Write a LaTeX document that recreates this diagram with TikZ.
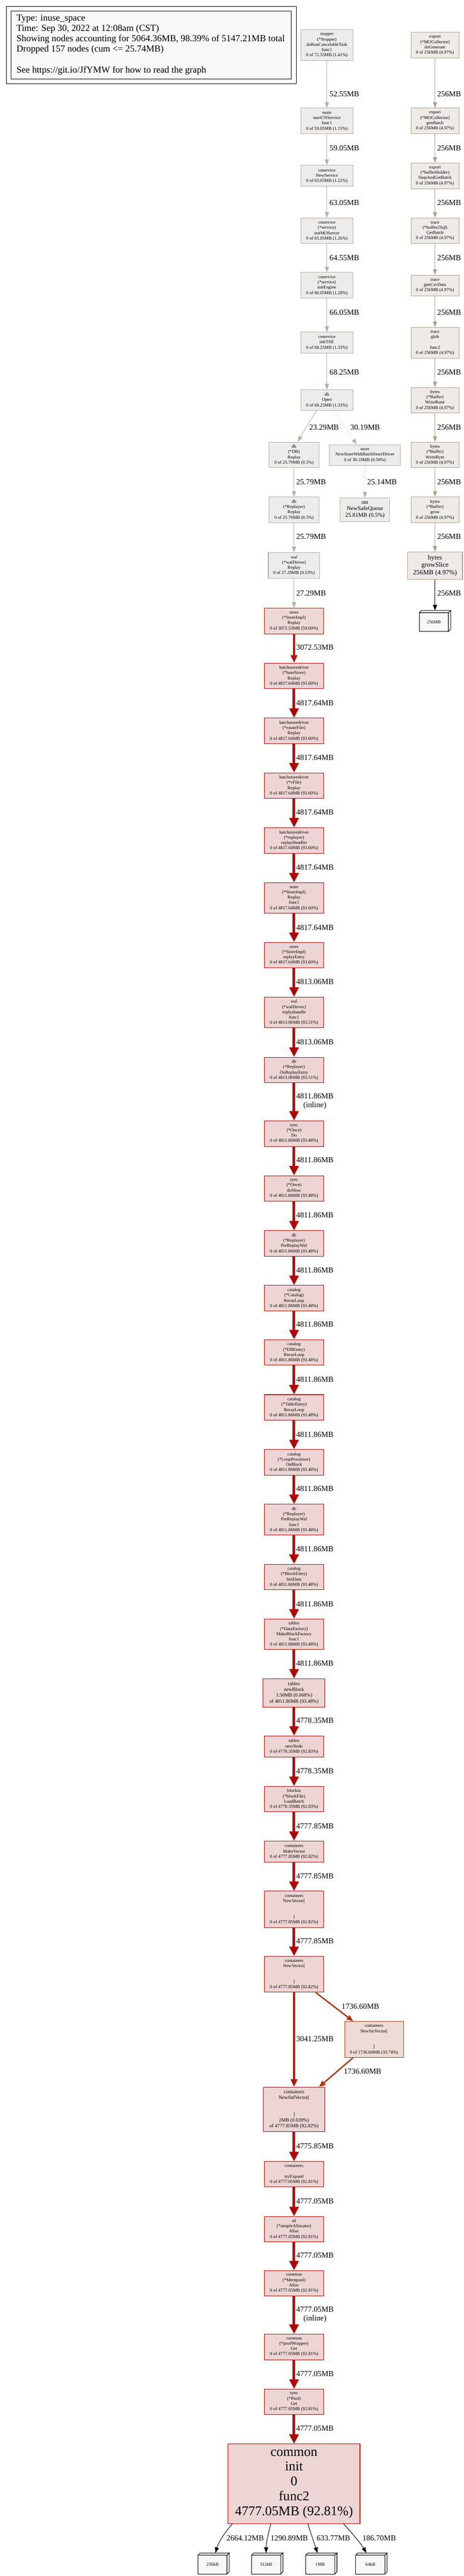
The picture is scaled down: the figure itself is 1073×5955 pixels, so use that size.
\documentclass[tikz,border=0pt]{standalone}
\usepackage{fontspec}
\setmainfont{Liberation Serif}
\usetikzlibrary{arrows.meta,calc}
\definecolor{gfill}{HTML}{EDECEB}
\definecolor{gbord}{HTML}{B2AFA6}
\definecolor{gedgec}{HTML}{B2B0A9}
\definecolor{tfill}{HTML}{EDEAE7}
\definecolor{tbord}{HTML}{B2A086}
\definecolor{rfill}{HTML}{EDD5D5}
\definecolor{rbord}{HTML}{B20300}
\definecolor{mfill}{HTML}{EDD8D5}
\definecolor{mbord}{HTML}{B21900}
\definecolor{ofill}{HTML}{EDDCD5}
\definecolor{obord}{HTML}{B23100}
\definecolor{leaffill}{HTML}{F8F8F8}
\newcommand\ndfont{\fontsize{10.5}{12.2}\selectfont}
\newcommand\edfont{\fontsize{18}{20.5}\selectfont}
\newcommand\lgfont{\fontsize{21.4}{24}\selectfont}
\tikzset{
  nd/.style={draw, rectangle, align=center, inner sep=0pt, line width=1.2pt, font=\ndfont},
  gnode/.style={nd, draw=gbord, fill=gfill},
  tnode/.style={nd, draw=tbord, fill=tfill},
  rnode/.style={nd, draw=rbord, fill=rfill, minimum width=136pt, minimum height=59pt},
  elab/.style={anchor=west, inner sep=0pt, font=\edfont, align=center},
  clab/.style={anchor=center, inner sep=0pt, font=\edfont},
  lgline/.style={anchor=west, inner sep=0pt, font=\lgfont},
  gedge/.style={draw=gedgec, line width=1.1pt, -{Triangle[length=13pt,width=9.5pt]}},
  gdot/.style={dash pattern=on 1.4pt off 5pt},
  tedge/.style={draw=tbord, line width=1.1pt, -{Triangle[length=13pt,width=9.5pt]}},
  kedge/.style={draw=black, line width=1.2pt, -{Triangle[length=13pt,width=9.5pt]}},
  redge/.style={draw=rbord, line width=6pt, -{Triangle[length=22pt,width=21pt]}},
  medge/.style={draw=mbord, line width=5pt, -{Triangle[length=18pt,width=15pt]}},
  oedge/.style={draw=obord, line width=3pt, -{Triangle[length=15pt,width=12pt]}},
  leafbb/.style={rectangle, inner sep=0pt, minimum width=72pt, minimum height=48pt},
  leafface/.style={fill=leaffill, draw=black, line width=1.2pt, line join=miter},
  leaftext/.style={inner sep=0pt, font=\ndfont}
}
\newcommand\leafbox[4]{%
  \node[leafbb] (#1) at (#2,#3) {};
  \filldraw[leafface] (#1.south west) rectangle ($(#1.north east)+(-5,5)$);
  \filldraw[leafface] ($(#1.north west)+(0,5)$) -- ($(#1.north west)+(5,0)$) -- (#1.north east) -- ($(#1.north east)+(-5,5)$) -- cycle;
  \filldraw[leafface] ($(#1.north east)+(-5,5)$) -- (#1.north east) -- ($(#1.south east)+(0,-5)$) -- ($(#1.south east)+(-5,0)$) -- cycle;
  \node[leaftext] (#1t) at ($(#1.center)+(-2.5,2.5)$) {#4};
}
\begin{document}
\begin{tikzpicture}[x=1pt,y=-1pt]
\fill[white] (0,0) rectangle (1073,5955);
\useasboundingbox (0,0) rectangle (1073,5955);

% ---------- legend ----------
\draw[black, line width=1.3pt, fill=white] (15,15) rectangle (685,193);
\node[draw=black, line width=1.3pt, fill=leaffill, rectangle, inner sep=0pt, minimum width=648pt, minimum height=157pt] (legend) at (350,104.5) {};
\node[lgline] (lg1) at (38,43) {Type: inuse\_space};
\node[lgline] (lg2) at (38,67) {Time: Sep 30, 2022 at 12:08am (CST)};
\node[lgline] (lg3) at (38,91) {Showing nodes accounting for 5064.36MB, 98.39\% of 5147.21MB total};
\node[lgline] (lg4) at (38,115) {Dropped 157 nodes (cum <= 25.74MB)};
\node[lgline] (lg5) at (38,163) {See https://git.io/JfYMW for how to read the graph};

% ---------- left grey column ----------
\node[gnode, minimum width=120pt, minimum height=71pt] (stopper) at (756,104.5) {stopper\\(*Stopper)\\doRunCancelableTask\\func1\\0 of 72.55MB (1.41\%)};
\node[gnode, minimum width=120pt, minimum height=59pt] (mainf) at (756,279.5) {main\\startCNService\\func1\\0 of 59.05MB (1.15\%)};
\node[gnode, minimum width=120pt, minimum height=49pt] (newservice) at (756,406.5) {cnservice\\NewService\\0 of 63.05MB (1.22\%)};
\node[gnode, minimum width=120pt, minimum height=59pt] (initmo) at (756,533.5) {cnservice\\(*service)\\initMOServer\\0 of 65.05MB (1.26\%)};
\node[gnode, minimum width=120pt, minimum height=59pt] (initengine) at (756,659.5) {cnservice\\(*service)\\initEngine\\0 of 66.05MB (1.28\%)};
\node[gnode, minimum width=120pt, minimum height=48pt] (inittae) at (756,792) {cnservice\\initTAE\\0 of 68.25MB (1.33\%)};
\node[gnode, minimum width=120pt, minimum height=48pt] (dbopen) at (756,925) {db\\Open\\0 of 68.25MB (1.33\%)};
\node[gnode, minimum width=116pt, minimum height=59pt] (dbreplay) at (680,1051.5) {db\\(*DB)\\Replay\\0 of 25.79MB (0.5\%)};
\node[gnode, minimum width=164pt, minimum height=48pt] (newstore) at (844,1052) {store\\NewStoreWithBatchStoreDriver\\0 of 30.19MB (0.59\%)};
\node[gnode, minimum width=116pt, minimum height=59pt] (replayer) at (680,1178.5) {db\\(*Replayer)\\Replay\\0 of 25.79MB (0.5\%)};
\node[gnode, minimum width=115pt, minimum height=55pt, font=\fontsize{13.4}{14.8}\selectfont] (safequeue) at (844,1178.5) {sm\\NewSafeQueue\\25.81MB (0.5\%)};
\node[gnode, minimum width=119pt, minimum height=59pt] (walreplay) at (680,1307) {wal\\(*walDriver)\\Replay\\0 of 27.29MB (0.53\%)};
\node[nd, draw=mbord, fill=mfill, minimum width=136pt, minimum height=59pt] (storereplay) at (680,1435.5) {store\\(*StoreImpl)\\Replay\\0 of 3072.53MB (59.69\%)};

% ---------- right tan column ----------
\node[tnode, minimum width=111pt, minimum height=59pt] (r1) at (1006,104.5) {export\\(*MOCollector)\\doGenerate\\0 of 256MB (4.97\%)};
\node[tnode, minimum width=111pt, minimum height=59pt] (r2) at (1006,279.5) {export\\(*MOCollector)\\genBatch\\0 of 256MB (4.97\%)};
\node[tnode, minimum width=111pt, minimum height=59pt] (r3) at (1006,406.5) {export\\(*bufferHolder)\\StopAndGetBatch\\0 of 256MB (4.97\%)};
\node[tnode, minimum width=111pt, minimum height=59pt] (r4) at (1006,533.5) {trace\\(*buffer2Sql)\\GetBatch\\0 of 256MB (4.97\%)};
\node[tnode, minimum width=111pt, minimum height=48pt] (r5) at (1006,660) {trace\\genCsvData\\0 of 256MB (4.97\%)};
\node[tnode, minimum width=111pt, minimum height=71pt] (r6) at (1006,792.5) {trace\\glob\\\mbox{}\\func2\\0 of 256MB (4.97\%)};
\node[tnode, minimum width=111pt, minimum height=58pt] (r7) at (1006,925) {bytes\\(*Buffer)\\WriteRune\\0 of 256MB (4.97\%)};
\node[tnode, minimum width=111pt, minimum height=59pt] (r8) at (1006,1051.5) {bytes\\(*Buffer)\\WriteByte\\0 of 256MB (4.97\%)};
\node[tnode, minimum width=111pt, minimum height=59pt] (r9) at (1006,1178.5) {bytes\\(*Buffer)\\grow\\0 of 256MB (4.97\%)};
\node[tnode, minimum width=127pt, minimum height=63pt, font=\fontsize{15.5}{17.3}\selectfont] (r10) at (1006,1307.5) {bytes\\growSlice\\256MB (4.97\%)};
\leafbox{leafr}{1006}{1435.5}{256MB}

% ---------- red chain ----------
\node[rnode] (basestore) at (680,1562.5) {batchstoredriver\\(*baseStore)\\Replay\\0 of 4817.64MB (93.60\%)};
\node[rnode] (rotatefile) at (680,1689.5) {batchstoredriver\\(*rotateFile)\\Replay\\0 of 4817.64MB (93.60\%)};
\node[rnode] (vfile) at (680,1816) {batchstoredriver\\(*vFile)\\Replay\\0 of 4817.64MB (93.60\%)};
\node[rnode] (replayhandler) at (680,1943) {batchstoredriver\\(*replayer)\\replayHandler\\0 of 4817.64MB (93.60\%)};
\node[rnode, minimum height=71pt] (replayfunc) at (680,2076) {store\\(*StoreImpl)\\Replay\\func1\\0 of 4817.64MB (93.60\%)};
\node[rnode] (replayentry) at (680,2208) {store\\(*StoreImpl)\\replayEntry\\0 of 4817.64MB (93.60\%)};
\node[rnode, minimum height=71pt] (walfunc) at (680,2340.5) {wal\\(*walDriver)\\replayhandle\\func1\\0 of 4813.06MB (93.51\%)};
\node[rnode] (onreplay) at (680,2473.5) {db\\(*Replayer)\\OnReplayEntry\\0 of 4813.06MB (93.51\%)};
\node[rnode] (oncedo) at (680,2620.5) {sync\\(*Once)\\Do\\0 of 4811.86MB (93.48\%)};
\node[rnode] (doslow) at (680,2747.5) {sync\\(*Once)\\doSlow\\0 of 4811.86MB (93.48\%)};
\node[rnode] (prereplay) at (680,2874.5) {db\\(*Replayer)\\PreReplayWal\\0 of 4811.86MB (93.48\%)};
\node[rnode] (catloop) at (680,3001) {catalog\\(*Catalog)\\RecurLoop\\0 of 4811.86MB (93.48\%)};
\node[rnode] (dbentry) at (680,3126.5) {catalog\\(*DBEntry)\\RecurLoop\\0 of 4811.86MB (93.48\%)};
\node[rnode] (tableentry) at (680,3253.5) {catalog\\(*TableEntry)\\RecurLoop\\0 of 4811.86MB (93.48\%)};
\node[rnode] (loopproc) at (680,3380.5) {catalog\\(*LoopProcessor)\\OnBlock\\0 of 4811.86MB (93.48\%)};
\node[rnode, minimum height=71pt] (prefunc) at (680,3513) {db\\(*Replayer)\\PreReplayWal\\func1\\0 of 4811.86MB (93.48\%)};
\node[rnode] (blockentry) at (680,3645.5) {catalog\\(*BlockEntry)\\InitData\\0 of 4811.86MB (93.48\%)};
\node[rnode, minimum height=71pt] (datafactory) at (680,3778) {tables\\(*DataFactory)\\MakeBlockFactory\\func1\\0 of 4811.86MB (93.48\%)};
\node[rnode, minimum width=143pt, minimum height=65pt, font=\fontsize{11.5}{13.3}\selectfont] (newblock) at (680,3913.5) {tables\\newBlock\\3.50MB (0.068\%)\\of 4811.86MB (93.48\%)};
\node[rnode, minimum height=49pt] (newnode) at (680,4037.5) {tables\\newNode\\0 of 4778.35MB (92.83\%)};
\node[rnode] (loadbatch) at (680,4159) {blockio\\(*blockFile)\\LoadBatch\\0 of 4778.35MB (92.83\%)};
\node[rnode, minimum height=49pt] (makevector) at (680,4280.5) {containers\\MakeVector\\0 of 4777.85MB (92.82\%)};
\node[rnode, minimum height=84pt] (newvectora) at (680,4414) {containers\\NewVector[\\\mbox{}\\\mbox{}\\]\\0 of 4777.85MB (92.82\%)};
\node[rnode, minimum height=83pt] (newvectorb) at (680,4564) {containers\\NewVector[\\\mbox{}\\\mbox{}\\]\\0 of 4777.85MB (92.82\%)};
\node[nd, draw=obord, fill=ofill, minimum width=136pt, minimum height=83pt] (newstr) at (865,4714.5) {containers\\NewStrVector[\\\mbox{}\\\mbox{}\\]\\0 of 1736.60MB (33.74\%)};
\node[rnode, minimum width=142pt, minimum height=103pt, font=\fontsize{11.5}{13.1}\selectfont] (newstd) at (680,4876.5) {containers\\NewStdVector[\\\mbox{}\\\mbox{}\\]\\2MB (0.039\%)\\of 4777.85MB (92.82\%)};
\node[rnode, minimum height=58pt] (tryexpand) at (680,5026) {containers\\\mbox{}\\tryExpand\\0 of 4777.05MB (92.81\%)};
\node[rnode, minimum height=58pt] (stlalloc) at (680,5153) {stl\\(*simpleAllocator)\\Alloc\\0 of 4777.05MB (92.81\%)};
\node[rnode] (mempool) at (680,5278.5) {common\\(*Mempool)\\Alloc\\0 of 4777.05MB (92.81\%)};
\node[rnode] (poolwrapper) at (680,5425.5) {common\\(*poolWrapper)\\Get\\0 of 4777.05MB (92.81\%)};
\node[rnode] (poolget) at (680,5552.5) {sync\\(*Pool)\\Get\\0 of 4777.05MB (92.81\%)};
\node[rnode, minimum width=305pt, minimum height=184pt, font=\fontsize{31}{34.2}\selectfont] (commoninit) at (680,5742) {common\\init\\0\\func2\\4777.05MB (92.81\%)};

\leafbox{leafa}{494}{5926}{256kB}
\leafbox{leafb}{618}{5926}{512kB}
\leafbox{leafc}{743}{5926}{1MB}
\leafbox{leafd}{859}{5926}{64kB}

% ---------- edges: left grey column ----------
\draw[gedge] (stopper) -- (mainf);
\draw[gedge] (mainf) -- (newservice);
\draw[gedge] (newservice) -- (initmo);
\draw[gedge] (initmo) -- (initengine);
\draw[gedge] (initengine) -- (inittae);
\draw[gedge] (inittae) -- (dbopen);
\draw[gedge] (dbopen.226) .. controls +(-13,20) and +(9,-18) .. (dbreplay.73);
\draw[gedge, gdot] (dbopen.304) -- (newstore.128);
\draw[gedge, gdot] (newstore) -- (safequeue);
\draw[gedge] (dbreplay) -- (replayer);
\draw[gedge] (replayer) -- (walreplay);
\draw[gedge] (walreplay) -- (storereplay);

% ---------- edges: right column ----------
\draw[tedge] (r1) -- (r2);
\draw[tedge] (r2) -- (r3);
\draw[tedge] (r3) -- (r4);
\draw[tedge] (r4) -- (r5);
\draw[tedge] (r5) -- (r6);
\draw[tedge] (r6) -- (r7);
\draw[tedge] (r7) -- (r8);
\draw[tedge] (r8) -- (r9);
\draw[tedge] (r9) -- (r10);
\draw[kedge] (r10) -- (leafr);

% ---------- edges: red chain ----------
\draw[medge] (storereplay) -- (basestore);
\draw[redge] (basestore) -- (rotatefile);
\draw[redge] (rotatefile) -- (vfile);
\draw[redge] (vfile) -- (replayhandler);
\draw[redge] (replayhandler) -- (replayfunc);
\draw[redge] (replayfunc) -- (replayentry);
\draw[redge] (replayentry) -- (walfunc);
\draw[redge] (walfunc) -- (onreplay);
\draw[redge] (onreplay) -- (oncedo);
\draw[redge] (oncedo) -- (doslow);
\draw[redge] (doslow) -- (prereplay);
\draw[redge] (prereplay) -- (catloop);
\draw[redge] (catloop) -- (dbentry);
\draw[redge] (dbentry) -- (tableentry);
\draw[redge] (tableentry) -- (loopproc);
\draw[redge] (loopproc) -- (prefunc);
\draw[redge] (prefunc) -- (blockentry);
\draw[redge] (blockentry) -- (datafactory);
\draw[redge] (datafactory) -- (newblock);
\draw[redge] (newblock) -- (newnode);
\draw[redge] (newnode) -- (loadbatch);
\draw[redge] (loadbatch) -- (makevector);
\draw[redge] (makevector) -- (newvectora);
\draw[redge] (newvectora) -- (newvectorb);
\draw[medge] (newvectorb) -- (newstd);
\draw[oedge] (newvectorb.320) -- (newstr.139);
\draw[oedge] (newstr.221) -- (newstd.42);
\draw[redge] (newstd) -- (tryexpand);
\draw[redge] (tryexpand) -- (stlalloc);
\draw[redge] (stlalloc) -- (mempool);
\draw[redge] (mempool) -- (poolwrapper);
\draw[redge] (poolwrapper) -- (poolget);
\draw[redge] (poolget) -- (commoninit);
\draw[kedge] (commoninit.213) .. controls +(-20,22) and +(6,-22) .. (leafa.80);
\draw[kedge] (commoninit.240) .. controls +(-6,20) and +(0,-22) .. (leafb.96);
\draw[kedge] (commoninit.289) -- (leafc.110);
\draw[kedge] (commoninit.321) .. controls +(18,18) and +(-10,-18) .. (leafd.116);

% ---------- edge labels ----------
\node[elab] (e1) at (762,217) {52.55MB};
\node[elab] (e2) at (762,342) {59.05MB};
\node[elab] (e3) at (762,469) {63.05MB};
\node[elab] (e4) at (762,596) {64.55MB};
\node[elab] (e5) at (762,722) {66.05MB};
\node[elab] (e6) at (762,861) {68.25MB};
\node[elab] (e7) at (715,988) {23.29MB};
\node[elab] (e8) at (810,988) {30.19MB};
\node[elab] (e9) at (685,1114) {25.79MB};
\node[elab] (e10) at (849,1114) {25.14MB};
\node[elab] (e11) at (685,1241) {25.79MB};
\node[elab] (e12) at (685,1372) {27.29MB};
\node[elab] (e13) at (685,1497) {3072.53MB};

\node[elab] (t1) at (1011,217) {256MB};
\node[elab] (t2) at (1011,342) {256MB};
\node[elab] (t3) at (1011,469) {256MB};
\node[elab] (t4) at (1011,596) {256MB};
\node[elab] (t5) at (1011,722) {256MB};
\node[elab] (t6) at (1011,861) {256MB};
\node[elab] (t7) at (1011,988) {256MB};
\node[elab] (t8) at (1011,1114) {256MB};
\node[elab] (t9) at (1011,1241) {256MB};
\node[elab] (t10) at (1011,1372) {256MB};

\node[elab] (c1) at (685,1625) {4817.64MB};
\node[elab] (c2) at (685,1751) {4817.64MB};
\node[elab] (c3) at (685,1878) {4817.64MB};
\node[elab] (c4) at (685,2005) {4817.64MB};
\node[elab] (c5) at (685,2144) {4817.64MB};
\node[elab] (c6) at (685,2269) {4813.06MB};
\node[elab] (c7) at (685,2409) {4813.06MB};
\node[elab] (c8) at (685,2546) {4811.86MB\\(inline)};
\node[elab] (c9) at (685,2682) {4811.86MB};
\node[elab] (c10) at (685,2809) {4811.86MB};
\node[elab] (c11) at (685,2936) {4811.86MB};
\node[elab] (c12) at (685,3062) {4811.86MB};
\node[elab] (c13) at (685,3189) {4811.86MB};
\node[elab] (c14) at (685,3316) {4811.86MB};
\node[elab] (c15) at (685,3442) {4811.86MB};
\node[elab] (c16) at (685,3581) {4811.86MB};
\node[elab] (c17) at (685,3708) {4811.86MB};
\node[elab] (c18) at (685,3845) {4811.86MB};
\node[elab] (c19) at (685,3977) {4778.35MB};
\node[elab] (c20) at (685,4094) {4778.35MB};
\node[elab] (c21) at (685,4221) {4777.85MB};
\node[elab] (c22) at (685,4337) {4777.85MB};
\node[elab] (c23) at (685,4487) {4777.85MB};
\node[elab] (c24) at (685,4714) {3041.25MB};
\node[elab] (c25) at (790,4638) {1736.60MB};
\node[elab] (c26) at (795,4789) {1736.60MB};
\node[elab] (c27) at (685,4961) {4775.85MB};
\node[elab] (c28) at (685,5088) {4777.05MB};
\node[elab] (c29) at (685,5214) {4777.05MB};
\node[elab] (c30) at (685,5351) {4777.05MB\\(inline)};
\node[elab] (c31) at (685,5488) {4777.05MB};
\node[elab] (c32) at (685,5614) {4777.05MB};

\node[clab] (b1) at (567,5867) {2664.12MB};
\node[clab] (b2) at (669,5867) {1290.89MB};
\node[clab] (b3) at (771,5867) {633.77MB};
\node[clab] (b4) at (877,5867) {186.70MB};
\end{tikzpicture}
\end{document}
